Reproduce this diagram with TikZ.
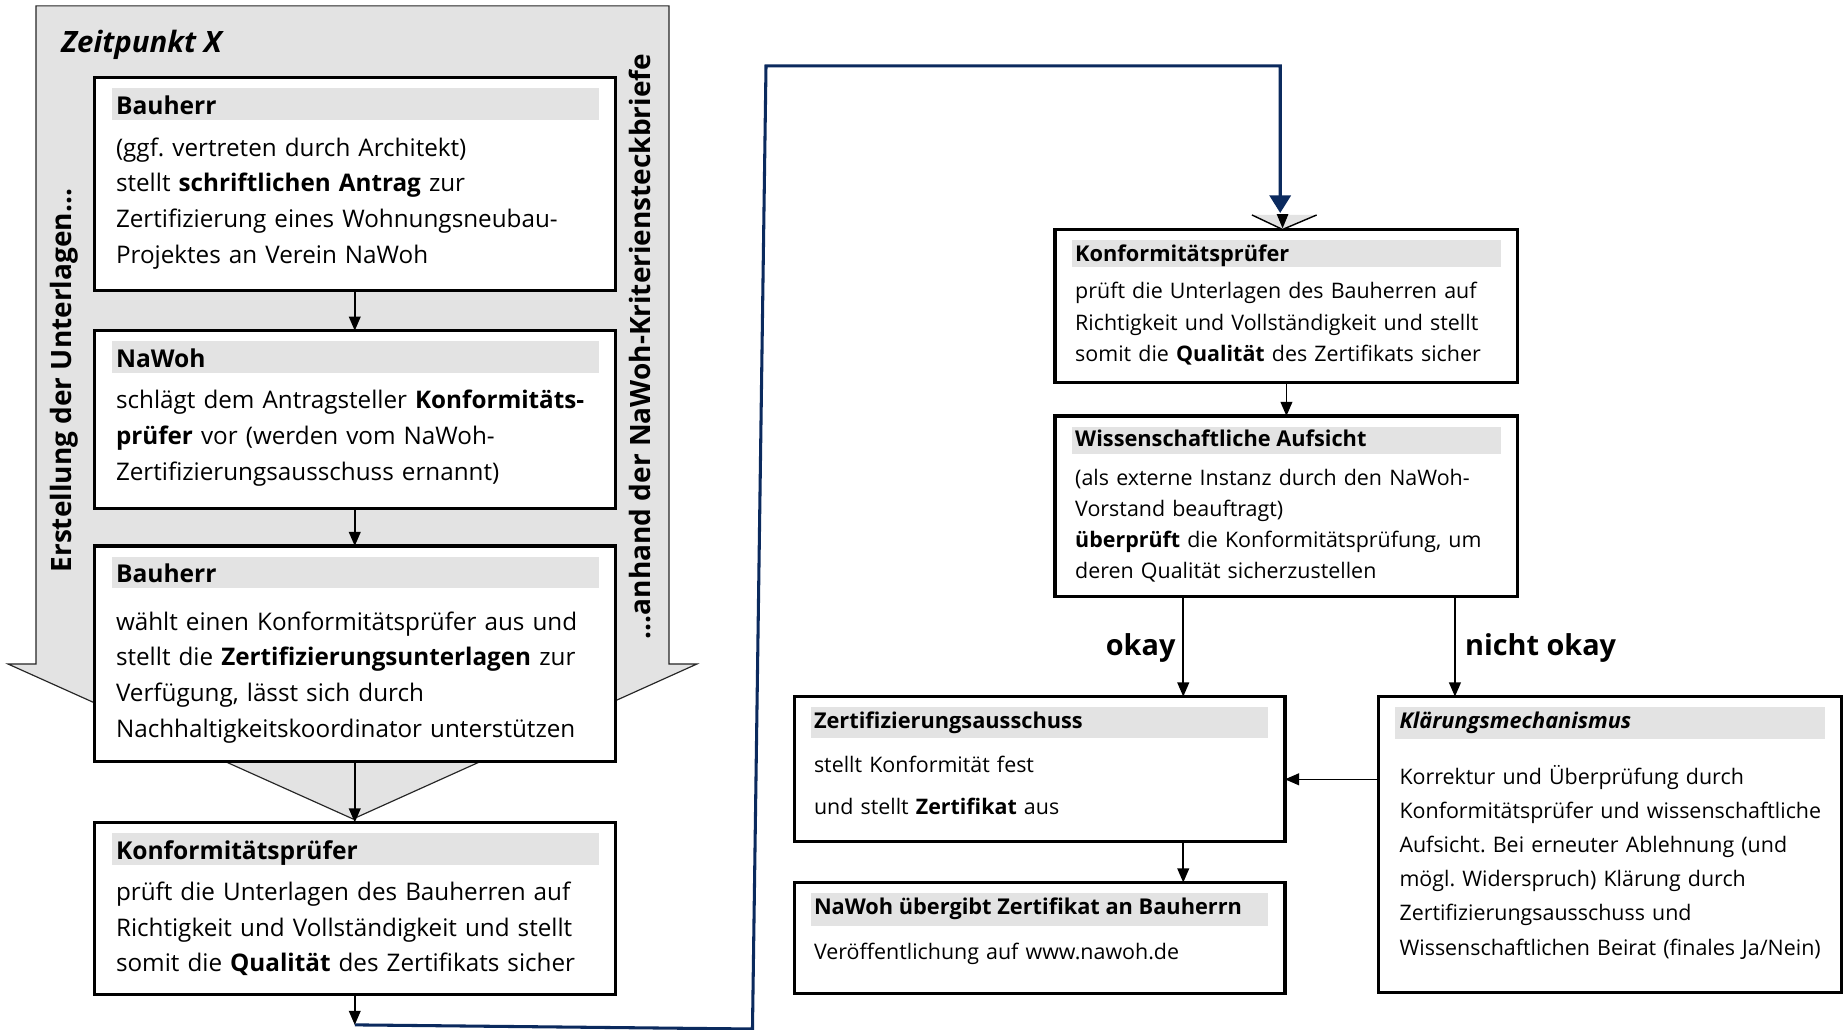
\documentclass[tikz,border=0pt]{standalone}
\usepackage{fontspec}
\setmainfont{Open Sans}
\usetikzlibrary{arrows.meta}
\definecolor{bandgray}{HTML}{E3E3E3}
\definecolor{navy}{HTML}{0B2A5E}
\tikzset{
  box/.style={draw=black, line width=2.7pt, fill=white, inner sep=0pt, outer sep=0pt},
  band/.style={fill=bandgray, draw=none, inner sep=0pt, outer sep=0pt},
  conn/.style={draw=black, line width=1.3pt, -{Triangle[width=10pt,length=12pt]}},
  bigarrow/.style={fill=bandgray, draw=black!85, line width=1pt, line join=miter},
  ltxt/.style={anchor=base west, inner sep=0pt, align=left, text width=430pt, font=\fontsize{20.6}{30.5}\selectfont},
  lhead/.style={anchor=base west, inner sep=0pt, font=\fontsize{20.9}{25}\selectfont\bfseries},
  rtxt/.style={anchor=base west, inner sep=0pt, align=left, text width=380pt, font=\fontsize{18.2}{27}\selectfont},
  rhead/.style={anchor=base west, inner sep=0pt, font=\fontsize{18.5}{22}\selectfont\bfseries},
  side/.style={inner sep=0pt, rotate=90, font=\fontsize{23.8}{28}\selectfont\bfseries},
  lbl/.style={inner sep=0pt, anchor=base, font=\fontsize{24.5}{28}\selectfont\bfseries},
}
\begin{document}
\frenchspacing
\begin{tikzpicture}[x=1pt,y=-1pt]
\useasboundingbox (0,0) rectangle (1568,875);
\fill[white] (0,0) rectangle (1568,875);

% big gray arrow
\path[bigarrow] (30.6,5) -- (568.5,5) -- (568.5,564.3) -- (592.3,564.3) -- (300,696) -- (6.8,564.3) -- (30.6,564.3) -- cycle;
\node[anchor=base west, inner sep=0pt, font=\fontsize{25}{28}\selectfont\bfseries\itshape] (zeit) at (52,44.5) {Zeitpunkt X};
\node[side] (ersteller) at (55,323.5) {Erstellung der Unterlagen...};
\node[side] (anhand) at (544,294.5) {...anhand der NaWoh-Kriteriensteckbriefe};

% left boxes
\node[box, minimum width=443pt, minimum height=181pt] (b1) at (301.5,156.5) {};
\node[box, minimum width=443pt, minimum height=151pt] (b2) at (301.5,356.5) {};
\node[box, minimum width=443pt, minimum height=183pt] (b3) at (301.5,555.5) {};
\node[box, minimum width=443pt, minimum height=146pt] (b4) at (301.5,772) {};

\fill[bandgray] (95.3,75) rectangle (509,102);
\fill[bandgray] (95.3,290) rectangle (509,317);
\fill[bandgray] (95.3,473) rectangle (509,500);
\fill[bandgray] (95.3,708) rectangle (509,735);

\node[lhead] (b1h) at (98.4,97) {Bauherr};
\node[ltxt] (b1t) at (98.4,132.6) {(ggf. vertreten durch Architekt)\\
stellt \textbf{schriftlichen Antrag} zur\\
Zertifizierung eines Wohnungsneubau-\\
Projektes an Verein NaWoh};

\node[lhead] (b2h) at (98.4,312) {NaWoh};
\node[ltxt] (b2t) at (98.4,347) {schlägt dem Antragsteller \textbf{Konformitäts-}\\
\textbf{prüfer} vor (werden vom NaWoh-\\
Zertifizierungsausschuss ernannt)};

\node[lhead] (b3h) at (98.4,495) {Bauherr};
\node[ltxt] (b3t) at (98.4,535.5) {wählt einen Konformitätsprüfer aus und\\
stellt die \textbf{Zertifizierungsunterlagen} zur\\
Verfügung, lässt sich durch\\
Nachhaltigkeitskoordinator unterstützen};

\node[lhead] (b4h) at (98.4,730.6) {Konformitätsprüfer};
\node[ltxt] (b4t) at (98.4,765) {prüft die Unterlagen des Bauherren auf\\
Richtigkeit und Vollständigkeit und stellt\\
somit die \textbf{Qualität} des Zertifikats sicher};

\draw[conn] (b1.south) -- (b2.north);
\draw[conn] (b2.south) -- (b3.north);
\draw[conn] (b3.south) -- (b4.north);
\coordinate (lend) at (301.5,871);
\draw[conn] (b4.south) -- (lend);

% right boxes
\node[box, minimum width=393.4pt, minimum height=130pt] (kp) at (1093.3,260) {};
\node[box, minimum width=393.4pt, minimum height=153.5pt] (wa) at (1093.3,430.25) {};
\node[box, minimum width=417pt, minimum height=123.3pt] (za) at (883.5,653.65) {};
\node[box, minimum width=417pt, minimum height=94pt] (nu) at (883.5,797) {};
\node[box, minimum width=393.6pt, minimum height=251.6pt] (km) at (1368.2,717.8) {};

\fill[bandgray] (910.7,204) rectangle (1276,227);
\fill[bandgray] (910.7,362.6) rectangle (1276,385.8);
\fill[bandgray] (689,601) rectangle (1078,627);
\fill[bandgray] (689,759) rectangle (1078,786.7);
\fill[bandgray] (1185.5,600.5) rectangle (1551,628.3);

\node[rhead] (kph) at (913.6,222.4) {Konformitätsprüfer};
\node[rtxt] (kpt) at (913.6,253.5) {prüft die Unterlagen des Bauherren auf\\
Richtigkeit und Vollständigkeit und stellt\\
somit die \textbf{Qualität} des Zertifikats sicher};

\node[rhead] (wah) at (913.6,379.6) {Wissenschaftliche Aufsicht};
\node[rtxt, font=\fontsize{18.2}{26.4}\selectfont] (wat) at (913.6,412.2) {(als externe Instanz durch den NaWoh-\\
Vorstand beauftragt)\\
\textbf{überprüft} die Konformitätsprüfung, um\\
deren Qualität sicherzustellen};

\node[rhead] (zah) at (691.6,619) {Zertifizierungsausschuss};
\node[rtxt, font=\fontsize{18.2}{35.4}\selectfont] (zat) at (691.6,656.6) {stellt Konformität fest\\
und stellt \textbf{Zertifikat} aus};

\node[rhead] (nuh) at (691.6,777) {NaWoh übergibt Zertifikat an Bauherrn};
\node[rtxt] (nut) at (691.6,815.8) {Veröffentlichung auf www.nawoh.de};

\node[rhead, font=\fontsize{18.5}{22}\selectfont\bfseries\itshape] (kmh) at (1189.2,619) {Klärungsmechanismus};
\node[rtxt, font=\fontsize{18.2}{29.1}\selectfont] (kmt) at (1189.2,666.3) {Korrektur und Überprüfung durch\\
Konformitätsprüfer und wissenschaftliche\\
Aufsicht. Bei erneuter Ablehnung (und\\
mögl. Widerspruch) Klärung durch\\
Zertifizierungsausschuss und\\
Wissenschaftlichen Beirat (finales Ja/Nein)};

% chevron above right Konformitaetspruefer box
\fill[bandgray] (1064,182.7) -- (1119,182.7) -- (1090,195) -- cycle;
\draw[black, line width=1.2pt] (1064,182.7) -- (1090,195) -- (1119,182.7);
\fill[black] (1085,182) -- (1095,182) -- (1090,194) -- cycle;

% connectors right
\draw[conn] (kp.south) -- (wa.north);
\draw[conn] (wa.south -| 1005.6,0) -- (za.north -| 1005.6,0) node[lbl, pos=0.5, left=6pt, anchor=base east, yshift=-8pt] (ok) {okay};
\draw[conn] (wa.south -| 1236.5,0) -- (km.north -| 1236.5,0) node[lbl, pos=0.5, right=8pt, anchor=base west, yshift=-8pt] (nok) {nicht okay};
\draw[conn] (km.west |- 0,662.3) -- (za.east |- 0,662.3);
\draw[conn] (za.south -| 1005.6,0) -- (nu.north -| 1005.6,0);

% blue return line
\coordinate (kpin) at (1088,181);
\draw[navy, line width=2.6pt, line join=miter, -{Triangle[width=18pt,length=15pt]}]
  (lend) -- (639.5,874.5) -- (651,56) -- (1088,56) -- (kpin);
\end{tikzpicture}
\end{document}
